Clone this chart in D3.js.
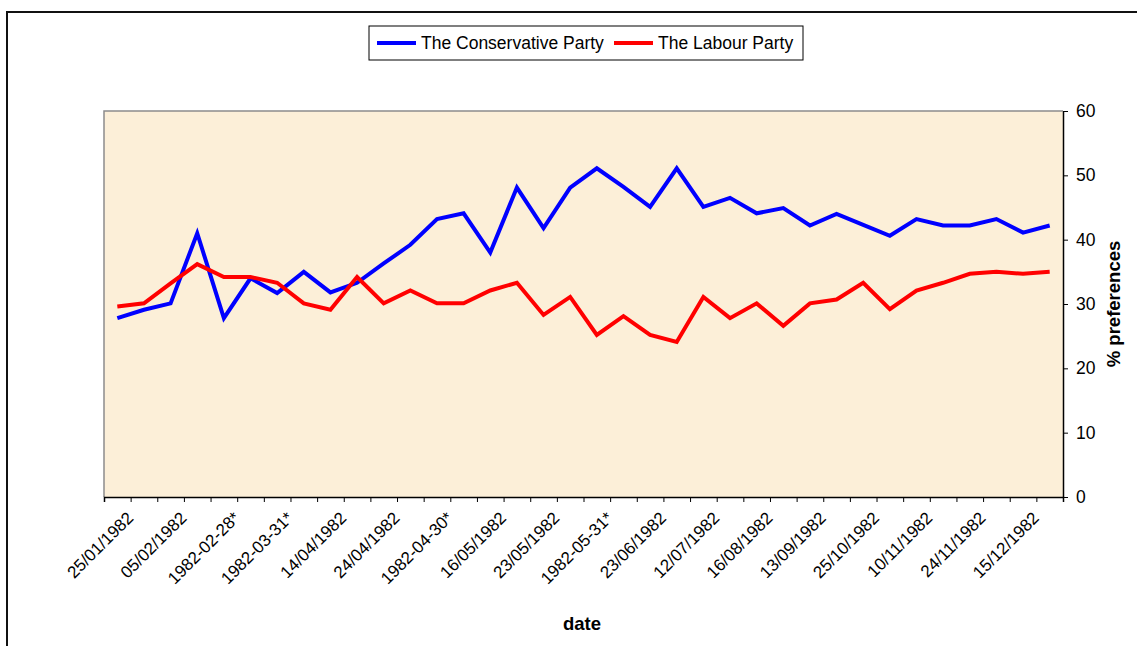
<!DOCTYPE html>
<html>
<head>
<meta charset="utf-8">
<script src="https://cdn.jsdelivr.net/npm/d3@7"></script>
<style>
  body { margin: 0; background: #fff; }
  svg { display: block; font-family: "Liberation Sans", Arial, sans-serif; }
</style>
</head>
<body>
<svg id="chart" width="1137" height="646"></svg>
<script>
// values, one per category (36 categories)
var conservative = [27.8, 29.1, 30.1, 41.0, 27.8, 34.0, 31.7, 35.0, 31.8, 33.3, 36.3, 39.2,
                    43.2, 44.1, 38.0, 48.1, 41.8, 48.1, 51.1, 48.2, 45.1, 51.1, 45.1, 46.5,
                    44.1, 44.9, 42.2, 44.0, 42.3, 40.6, 43.2, 42.2, 42.2, 43.2, 41.1, 42.2];
var labour = [29.6, 30.1, 33.2, 36.2, 34.2, 34.2, 33.3, 30.1, 29.1, 34.2, 30.1, 32.1,
              30.1, 30.1, 32.1, 33.3, 28.3, 31.1, 25.2, 28.1, 25.2, 24.1, 31.1, 27.8,
              30.1, 26.6, 30.1, 30.7, 33.3, 29.2, 32.1, 33.3, 34.7, 35.0, 34.7, 35.0];
// only every second category is labelled
var tickLabels = ["25/01/1982", "05/02/1982", "1982-02-28*", "1982-03-31*", "14/04/1982",
                  "24/04/1982", "1982-04-30*", "16/05/1982", "23/05/1982", "1982-05-31*",
                  "23/06/1982", "12/07/1982", "16/08/1982", "13/09/1982", "25/10/1982",
                  "10/11/1982", "24/11/1982", "15/12/1982"];
var yTicks = [0, 10, 20, 30, 40, 50, 60];
var seriesNames = ["The Conservative Party", "The Labour Party"];
var seriesColors = ["#0000FF", "#FF0000"];

var svg = d3.select("#chart");
var plotLeft = 104, plotRight = 1063, plotTop = 111, plotBottom = 497;

// outer frame (runs off the right and bottom of the window)
svg.append("rect")
    .attr("x", 7).attr("y", 12)
    .attr("width", 1140).attr("height", 650)
    .attr("fill", "#fff").attr("stroke", "#111").attr("stroke-width", 2);

var x = d3.scaleBand().domain(d3.range(conservative.length)).range([plotLeft, plotRight]).padding(0);
var xEdge = d3.scaleLinear().domain([0, conservative.length]).range([plotLeft, plotRight]);
var y = d3.scaleLinear().domain([0, 60]).range([plotBottom, plotTop]);

// plot area
svg.append("rect")
    .attr("x", plotLeft).attr("y", plotTop)
    .attr("width", plotRight - plotLeft).attr("height", plotBottom - plotTop)
    .attr("fill", "#FCEFD8");

svg.append("path")
    .attr("d", "M" + plotLeft + "," + plotBottom + "V" + plotTop + "H" + plotRight)
    .attr("fill", "none").attr("stroke", "#8c8c8c").attr("stroke-width", 1.5);

// x axis: ticks on category edges
var xAxis = svg.append("g")
    .attr("transform", "translate(0," + plotBottom + ")")
    .call(d3.axisBottom(xEdge).tickValues(d3.range(conservative.length + 1)).tickSize(5).tickFormat(""));
xAxis.select(".domain").attr("stroke", "#000").attr("stroke-width", 1.5);
xAxis.selectAll(".tick line").attr("stroke", "#000");

svg.append("g").selectAll("text.xlab")
    .data(tickLabels)
    .enter().append("text")
    .attr("class", "xlab")
    .attr("text-anchor", "end")
    .attr("font-size", 17)
    .attr("fill", "#000")
    .attr("transform", function (d, i) {
        var cx = x(i * 2) + x.bandwidth() / 2 + 17;
        return "translate(" + cx + ",519) rotate(-45)";
    })
    .text(function (d) { return d; });

// y axis on the right
var yAxis = svg.append("g")
    .attr("transform", "translate(" + plotRight + ",0)")
    .call(d3.axisRight(y).tickValues(yTicks).tickSize(5).tickPadding(8).tickSizeOuter(0));
yAxis.select(".domain").attr("stroke", "#000").attr("stroke-width", 1.5);
yAxis.selectAll(".tick line").attr("stroke", "#000");
yAxis.selectAll(".tick text")
    .attr("font-size", 17.5).attr("fill", "#000")
    .style("font-family", "'Liberation Sans', Arial, sans-serif");

// lines
var line = d3.line()
    .x(function (d, i) { return x(i) + x.bandwidth() / 2; })
    .y(function (d) { return y(d); });

[conservative, labour].forEach(function (s, k) {
    svg.append("path")
        .datum(s)
        .attr("d", line)
        .attr("fill", "none")
        .attr("stroke", seriesColors[k])
        .attr("stroke-width", 4)
        .attr("stroke-linejoin", "miter");
});

// axis titles
svg.append("text")
    .attr("x", 582).attr("y", 630)
    .attr("text-anchor", "middle")
    .attr("font-size", 18.5).attr("font-weight", "bold")
    .text("date");

svg.append("text")
    .attr("transform", "translate(1120,304) rotate(-90)")
    .attr("text-anchor", "middle")
    .attr("font-size", 18.5).attr("font-weight", "bold")
    .text("% preferences");

// legend
var legend = svg.append("g");
legend.append("rect")
    .attr("x", 369).attr("y", 26)
    .attr("width", 434).attr("height", 34)
    .attr("fill", "#fff").attr("stroke", "#000").attr("stroke-width", 1);

var legendX = [377, 614];
seriesNames.forEach(function (name, k) {
    legend.append("line")
        .attr("x1", legendX[k]).attr("x2", legendX[k] + 39)
        .attr("y1", 43).attr("y2", 43)
        .attr("stroke", seriesColors[k]).attr("stroke-width", 4);
    legend.append("text")
        .attr("x", legendX[k] + 44).attr("y", 49)
        .attr("font-size", 17.5)
        .text(name);
});
</script>
</body>
</html>
